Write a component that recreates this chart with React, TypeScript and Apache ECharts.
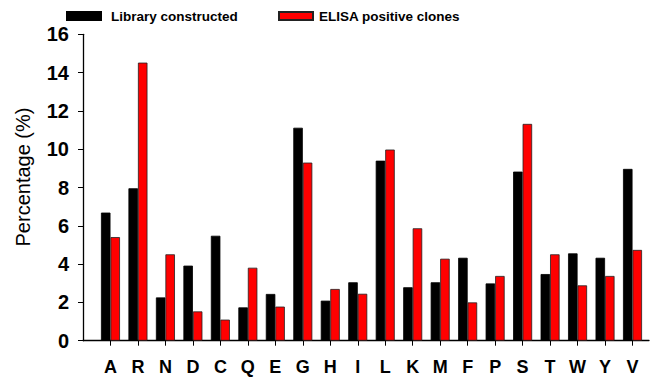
import React, { useEffect, useRef } from "react";
import * as echarts from "echarts";

const categories = ["A", "R", "N", "D", "C", "Q", "E", "G", "H", "I", "L", "K", "M", "F", "P", "S", "T", "W", "Y", "V"];
const libraryConstructed = [6.69, 7.96, 2.26, 3.92, 5.48, 1.74, 2.44, 11.12, 2.09, 3.05, 9.4, 2.79, 3.05, 4.33, 2.99, 8.83, 3.48, 4.56, 4.33, 8.97];
const elisaPositive = [5.41, 14.52, 4.51, 1.53, 1.1, 3.81, 1.78, 9.3, 2.7, 2.45, 9.98, 5.87, 4.28, 2.0, 3.38, 11.32, 4.51, 2.89, 3.38, 4.74];
const yTicks = [0, 2, 4, 6, 8, 10, 12, 14, 16];

const FONT = "'Liberation Sans', Arial, sans-serif";

export default function App() {
  const ref = useRef<HTMLDivElement>(null);
  useEffect(() => {
    if (!ref.current) return;
    const chart = echarts.init(ref.current, undefined, { renderer: "svg" });
    const positions = categories.map((_, i) => i + 1);
    chart.setOption({
      animation: false,
      backgroundColor: "#ffffff",
      textStyle: { fontFamily: FONT },
      legend: [
        {
          data: ["Library constructed"],
          left: 66,
          top: 9,
          padding: 0,
          icon: "rect",
          itemWidth: 34,
          itemHeight: 8,
          textStyle: { fontSize: 13.5, fontWeight: "bold", color: "#000", fontFamily: FONT, padding: [0, 0, 0, 5] },
        },
        {
          data: ["ELISA positive clones"],
          left: 278,
          top: 9,
          padding: 0,
          icon: "rect",
          itemWidth: 34,
          itemHeight: 8,
          textStyle: { fontSize: 13.5, fontWeight: "bold", color: "#000", fontFamily: FONT, padding: [0, 0, 0, 1] },
        },
      ],
      grid: { left: 83, right: 1, top: 34.3, bottom: 38.3 },
      xAxis: {
        type: "value",
        min: 0,
        max: 20.6,
        interval: 1,
        splitLine: { show: false },
        axisLine: { show: true, lineStyle: { color: "#000", width: 1.3 } },
        axisTick: { show: true, length: 5, lineStyle: { color: "#000", width: 1 }, customValues: positions },
        axisLabel: {
          customValues: positions,
          formatter: (v: number) => categories[Math.round(v) - 1] ?? "",
          fontSize: 18,
          fontWeight: "bold",
          color: "#000",
          fontFamily: FONT,
          margin: 17,
        },
      },
      yAxis: {
        type: "value",
        min: 0,
        max: 16,
        interval: 2,
        splitLine: { show: false },
        axisLine: { show: true, lineStyle: { color: "#000", width: 1.3 } },
        axisTick: { show: true, length: 5, lineStyle: { color: "#000", width: 1 } },
        axisLabel: {
          customValues: yTicks,
          fontSize: 20,
          fontWeight: "bold",
          color: "#000",
          fontFamily: FONT,
          margin: 14,
        },
      },
      graphic: [
        {
          type: "text",
          x: 23,
          y: 177,
          rotation: Math.PI / 2,
          style: {
            text: "Percentage (%)",
            font: `20px ${FONT}`,
            fill: "#000",
            align: "center",
            verticalAlign: "middle",
          },
        },
      ],
      series: [
        {
          name: "Library constructed",
          type: "bar",
          barWidth: 9.5,
          barGap: "0%",
          data: libraryConstructed.map((v, i) => [positions[i], v]),
          itemStyle: { color: "#000000", borderColor: "#000", borderWidth: 0.8 },
        },
        {
          name: "ELISA positive clones",
          type: "bar",
          barWidth: 9.5,
          barGap: "0%",
          data: elisaPositive.map((v, i) => [positions[i], v]),
          itemStyle: { color: "#ff0000", borderColor: "#222", borderWidth: 0.8 },
        },
      ],
    });
    return () => chart.dispose();
  }, []);
  return <div ref={ref} style={{ position: "fixed", left: 0, top: 0, width: 650, height: 379 }} />;
}
